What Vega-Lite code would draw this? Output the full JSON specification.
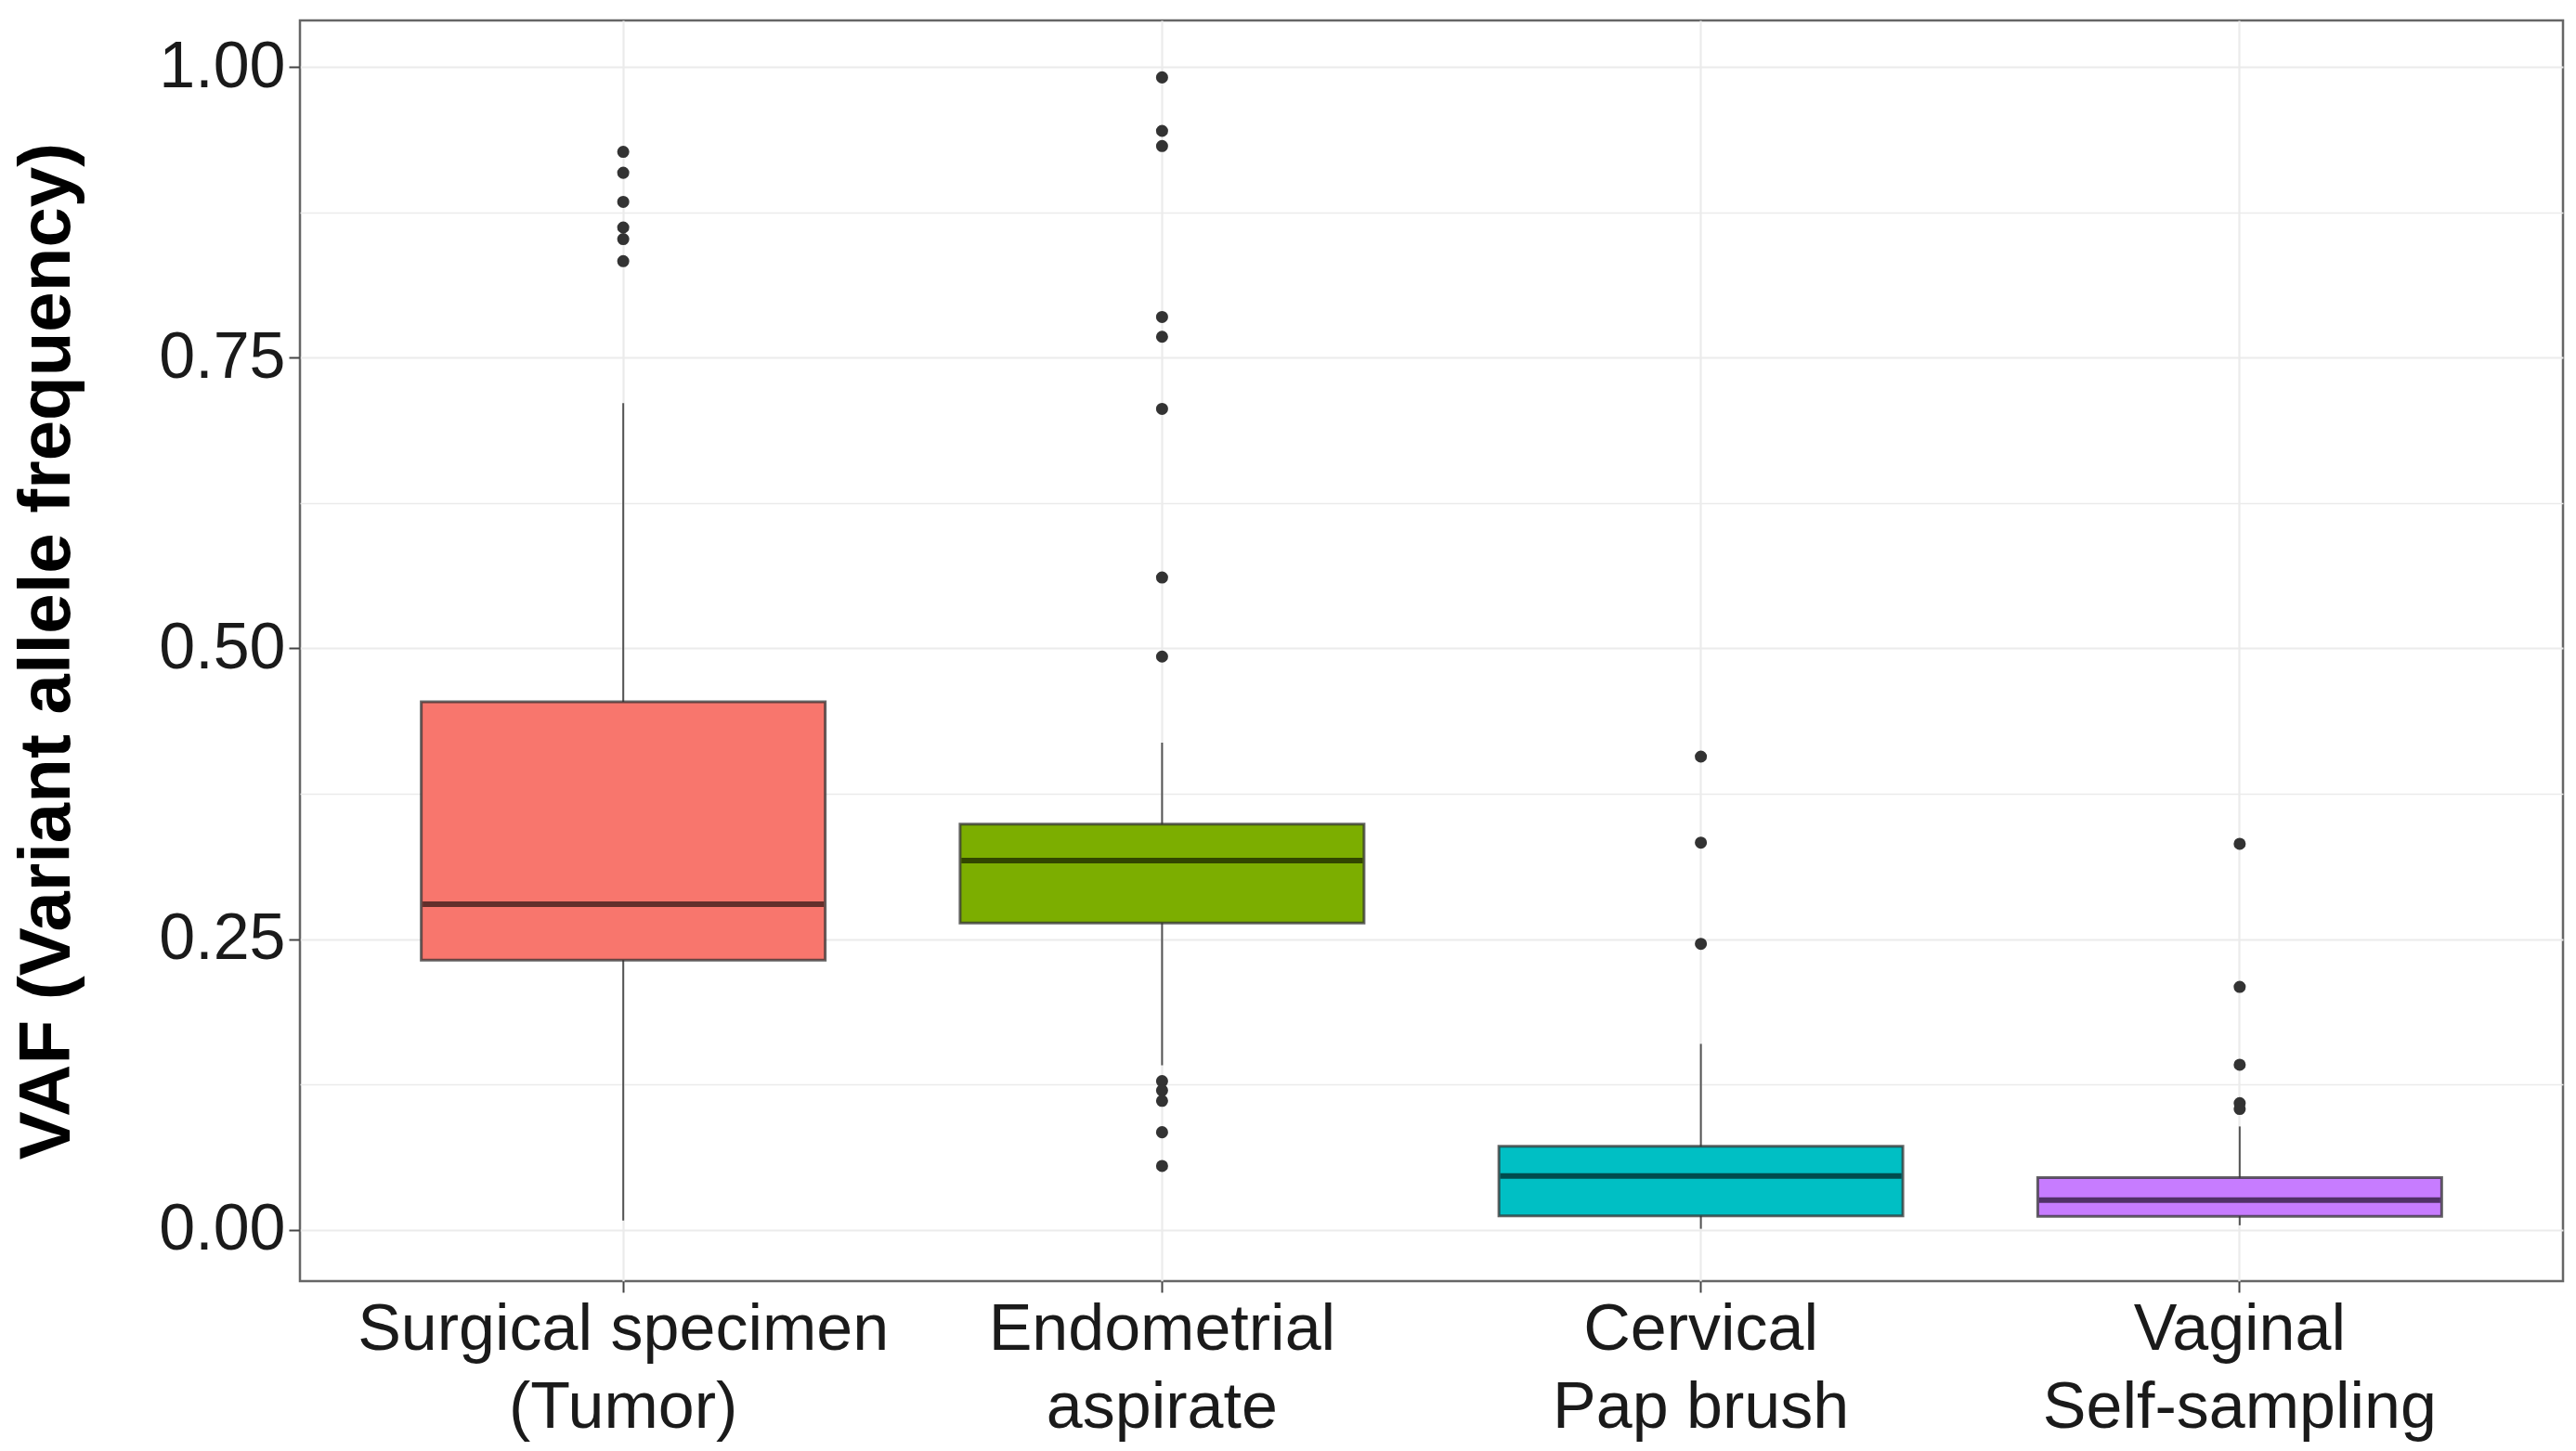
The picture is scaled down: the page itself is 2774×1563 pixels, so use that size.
{
  "$schema": "https://vega.github.io/schema/vega-lite/v6.json",
  "autosize": "none",
  "padding": {"left": 323, "top": 22, "right": 14, "bottom": 183},
  "width": 2437,
  "height": 1358,
  "background": "white",
  "config": {
    "view": {"stroke": "#666666", "strokeWidth": 2.5},
    "font": "Liberation Sans"
  },
  "datasets": {
    "boxes": [
      {"sample": "Surgical specimen\n(Tumor)", "lower": 0.008, "q1": 0.232, "median": 0.280, "q3": 0.454, "upper": 0.711},
      {"sample": "Endometrial\naspirate", "lower": 0.1415, "q1": 0.264, "median": 0.3175, "q3": 0.349, "upper": 0.419},
      {"sample": "Cervical\nPap brush", "lower": 0.001, "q1": 0.012, "median": 0.0464, "q3": 0.072, "upper": 0.160},
      {"sample": "Vaginal\nSelf-sampling", "lower": 0.004, "q1": 0.0116, "median": 0.0257, "q3": 0.045, "upper": 0.089}
    ],
    "outliers": [
      {"sample": "Surgical specimen\n(Tumor)", "value": 0.927},
      {"sample": "Surgical specimen\n(Tumor)", "value": 0.909},
      {"sample": "Surgical specimen\n(Tumor)", "value": 0.884},
      {"sample": "Surgical specimen\n(Tumor)", "value": 0.862},
      {"sample": "Surgical specimen\n(Tumor)", "value": 0.852},
      {"sample": "Surgical specimen\n(Tumor)", "value": 0.833},
      {"sample": "Endometrial\naspirate", "value": 0.991},
      {"sample": "Endometrial\naspirate", "value": 0.945},
      {"sample": "Endometrial\naspirate", "value": 0.932},
      {"sample": "Endometrial\naspirate", "value": 0.785},
      {"sample": "Endometrial\naspirate", "value": 0.768},
      {"sample": "Endometrial\naspirate", "value": 0.706},
      {"sample": "Endometrial\naspirate", "value": 0.561},
      {"sample": "Endometrial\naspirate", "value": 0.493},
      {"sample": "Endometrial\naspirate", "value": 0.128},
      {"sample": "Endometrial\naspirate", "value": 0.120},
      {"sample": "Endometrial\naspirate", "value": 0.111},
      {"sample": "Endometrial\naspirate", "value": 0.084},
      {"sample": "Endometrial\naspirate", "value": 0.055},
      {"sample": "Cervical\nPap brush", "value": 0.407},
      {"sample": "Cervical\nPap brush", "value": 0.333},
      {"sample": "Cervical\nPap brush", "value": 0.246},
      {"sample": "Vaginal\nSelf-sampling", "value": 0.332},
      {"sample": "Vaginal\nSelf-sampling", "value": 0.209},
      {"sample": "Vaginal\nSelf-sampling", "value": 0.142},
      {"sample": "Vaginal\nSelf-sampling", "value": 0.109},
      {"sample": "Vaginal\nSelf-sampling", "value": 0.104}
    ]
  },
  "encoding": {
    "x": {
      "field": "sample",
      "type": "nominal",
      "sort": null,
      "scale": {
        "type": "band",
        "domain": ["Surgical specimen\n(Tumor)", "Endometrial\naspirate", "Cervical\nPap brush", "Vaginal\nSelf-sampling"],
        "paddingInner": 0,
        "paddingOuter": 0.1
      },
      "axis": {
        "title": null,
        "labelAngle": 0,
        "labelExpr": "split(datum.label, '\\n')",
        "labelFont": "Liberation Sans",
        "labelFontSize": 70,
        "labelColor": "#1a1a1a",
        "labelLineHeight": 84,
        "labelLimit": 0,
        "labelPadding": 6,
        "tickSize": 12,
        "tickWidth": 2,
        "tickColor": "#444444",
        "domain": false,
        "grid": true,
        "gridColor": "#ebebeb",
        "gridWidth": 2.2,
        "bandPosition": 0.5
      }
    }
  },
  "layer": [
    {
      "data": {"name": "boxes"},
      "mark": {"type": "rule", "color": "#555555", "strokeWidth": 2},
      "encoding": {
        "y": {
          "field": "lower",
          "type": "quantitative",
          "scale": {"domain": [-0.044, 1.04], "nice": false, "zero": false},
          "axis": {
            "title": "VAF (Variant allele frequency)",
            "titleFont": "Liberation Sans",
            "titleFontSize": 78,
            "titleFontWeight": "bold",
            "titleColor": "#000000",
            "titlePadding": 80,
            "values": [0, 0.125, 0.25, 0.375, 0.5, 0.625, 0.75, 0.875, 1],
            "labelExpr": "(datum.value * 4) % 1 == 0 ? format(datum.value, '.2f') : ''",
            "labelFont": "Liberation Sans",
            "labelFontSize": 70,
            "labelColor": "#1a1a1a",
            "labelPadding": 4,
            "tickSize": 12,
            "tickWidth": 2,
            "tickColor": "#444444",
            "tickOpacity": {"condition": {"test": "(datum.value * 4) % 1 != 0", "value": 0}, "value": 1},
            "domain": false,
            "grid": true,
            "gridColor": "#ebebeb",
            "gridWidth": {"condition": {"test": "(datum.value * 4) % 1 != 0", "value": 1.3}, "value": 2.2}
          }
        },
        "y2": {"field": "upper"}
      }
    },
    {
      "data": {"name": "boxes"},
      "mark": {"type": "bar", "size": 435, "stroke": "#333333", "strokeOpacity": 0.75, "strokeWidth": 3, "opacity": 1},
      "encoding": {
        "y": {"field": "q1", "type": "quantitative"},
        "y2": {"field": "q3"},
        "fill": {
          "field": "sample",
          "type": "nominal",
          "scale": {
            "domain": ["Surgical specimen\n(Tumor)", "Endometrial\naspirate", "Cervical\nPap brush", "Vaginal\nSelf-sampling"],
            "range": ["#F8766D", "#7CAE00", "#00BFC4", "#C77CFF"]
          },
          "legend": null
        }
      }
    },
    {
      "data": {"name": "boxes"},
      "mark": {"type": "tick", "size": 432, "thickness": 6, "color": "#000000", "opacity": 0.6},
      "encoding": {
        "y": {"field": "median", "type": "quantitative"}
      }
    },
    {
      "data": {"name": "outliers"},
      "mark": {"type": "circle", "size": 170, "color": "#333333", "opacity": 1},
      "encoding": {
        "y": {"field": "value", "type": "quantitative"}
      }
    }
  ]
}
